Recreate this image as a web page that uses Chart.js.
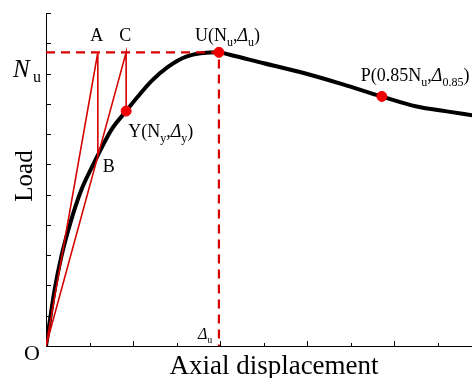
<!DOCTYPE html>
<html>
<head>
<meta charset="utf-8">
<script src="https://cdn.jsdelivr.net/npm/chart.js@4/dist/chart.umd.min.js"></script>
<style>
  html, body { margin: 0; padding: 0; background: #fff; }
  #wrap { width: 472px; height: 378px; position: relative; }
</style>
</head>
<body>
<div id="wrap"><canvas id="loadChart"></canvas></div>
<script>
// load-displacement curve (arbitrary units)
const curveX = [0, 0.1, 0.195, 0.35, 0.556, 0.81, 1.08, 1.19, 1.5, 1.84, 2.11, 2.42, 2.8, 3.22, 3.97, 4.22, 5.0, 5.83, 6.8, 7.71, 8.51, 9.2, 9.8];
const curveY = [0, 0.95, 1.84, 2.94, 4.05, 5.15, 5.98, 6.3, 7.14, 7.76, 8.24, 8.75, 9.22, 9.56, 9.7, 9.62, 9.34, 9.05, 8.65, 8.24, 7.91, 7.75, 7.62];

// characteristic points
const Nu = 9.7;
const ptA = [1.19, Nu];
const ptB = [1.19, 6.27];
const ptC = [1.84, Nu];
const ptY = [1.84, 7.76];
const ptU = [3.97, Nu];
const ptP = [7.71, 0.85 * Nu];

const xMax = 9.78;
const yMax = 11;
const yTicks = [1, 2, 3, 4, 5, 6, 7, 8, 9, 10, 11];
const xTicks = [1, 2, 3, 4, 5, 6, 7, 8, 9];

const red = "rgb(215,0,0)";
const dotRed = "rgb(240,0,0)";
const serif = "'Liberation Serif', 'Times New Roman', serif";

let toPts = (xs, ys) => xs.map((x, i) => ({ x: x, y: ys[i] }));
let pt = (p) => ({ x: p[0], y: p[1] });

// draw text pieces: [text, kind] kind: n normal, i italic, s sub, si italic sub
let richText = (ctx, x, y, parts, size, align) => {
  let fontFor = (k) => {
    let sz = k.indexOf("s") === 0 ? Math.round(size * 0.65) : size;
    return (k.indexOf("i") > -1 ? "italic " : "") + sz + "px " + serif;
  };
  let total = 0;
  parts.forEach((p) => {
    ctx.font = fontFor(p[1]);
    total += ctx.measureText(p[0]).width;
  });
  let cx = align === "center" ? x - total / 2 : x;
  parts.forEach((p) => {
    ctx.font = fontFor(p[1]);
    let dy = p[1].indexOf("s") === 0 ? size * 0.25 : 0;
    ctx.fillText(p[0], cx, y + dy);
    cx += ctx.measureText(p[0]).width;
  });
};

const inwardTicks = {
  id: "inwardTicks",
  afterDraw(chart) {
    const ctx = chart.ctx;
    const xs = chart.scales.x;
    const ys = chart.scales.y;
    const left = chart.chartArea.left;
    const bottom = chart.chartArea.bottom;
    ctx.save();
    ctx.strokeStyle = "#000";
    ctx.lineWidth = 1;
    ctx.beginPath();
    yTicks.forEach((v) => {
      let py = Math.round(ys.getPixelForValue(v)) + 0.5;
      ctx.moveTo(left, py);
      ctx.lineTo(left + 5, py);
    });
    xTicks.forEach((v) => {
      let px = Math.round(xs.getPixelForValue(v)) + 0.5;
      ctx.moveTo(px, bottom);
      ctx.lineTo(px, bottom - (v % 2 === 0 ? 5 : 3));
    });
    ctx.stroke();
    ctx.restore();
  },
};

const labels = {
  id: "labels",
  afterDraw(chart) {
    const ctx = chart.ctx;
    const xs = chart.scales.x;
    const ys = chart.scales.y;
    const X = (v) => xs.getPixelForValue(v);
    const Y = (v) => ys.getPixelForValue(v);
    ctx.save();
    ctx.fillStyle = "#000";
    ctx.textBaseline = "alphabetic";

    richText(ctx, X(ptA[0]) - 1, Y(Nu) - 11, [["A", "n"]], 18, "center");
    richText(ctx, X(ptC[0]) - 1, Y(Nu) - 11, [["C", "n"]], 18, "center");
    richText(ctx, X(ptB[0]) + 5, Y(ptB[1]) + 16, [["B", "n"]], 18, "left");
    richText(ctx, X(ptU[0]) - 24, Y(Nu) - 11,
      [["U(N", "n"], ["u", "s"], [",", "n"], ["\u0394", "i"], ["u", "s"], [")", "n"]], 18, "left");
    richText(ctx, X(ptY[0]) + 2, Y(ptY[1]) + 26,
      [["Y(N", "n"], ["y", "s"], [",", "n"], ["\u0394", "i"], ["y", "s"], [")", "n"]], 18, "left");
    richText(ctx, X(ptP[0]) - 21, Y(ptP[1]) - 15,
      [["P(0.85N", "n"], ["u", "s"], [",", "n"], ["\u0394", "i"], ["0.85", "s"], [")", "n"]], 18, "left");

    // axis annotations
    richText(ctx, 13, Y(Nu) + 25, [["N", "i"]], 25, "left");
    ctx.font = "16px " + serif;
    ctx.fillText("u", 33, Y(Nu) + 30);
    richText(ctx, X(ptU[0]) - 21, chart.chartArea.bottom - 7, [["\u0394", "i"], ["u", "s"]], 16, "left");
    ctx.font = "22px " + serif;
    ctx.textAlign = "center";
    ctx.fillText("O", 32, chart.chartArea.bottom + 14);
    ctx.font = "27px " + serif;
    ctx.fillText("Axial displacement", 274, 374);
    ctx.translate(32, 176);
    ctx.rotate(-Math.PI / 2);
    ctx.font = "25px " + serif;
    ctx.fillText("Load", 0, 0);
    ctx.restore();
  },
};

let loadChart = () => {
  new Chart(document.getElementById("loadChart"), {
    type: "scatter",
    data: {
      datasets: [
        {
          label: "points",
          data: [pt(ptY), pt(ptU), pt(ptP)],
          pointRadius: 5,
          pointBackgroundColor: dotRed,
          pointBorderColor: dotRed,
          showLine: false,
          order: 0,
        },
        {
          label: "OAB",
          data: [{ x: 0, y: 0 }, pt(ptA), pt(ptB)],
          showLine: true,
          borderColor: red,
          borderWidth: 1.6,
          pointRadius: 0,
          order: 1,
        },
        {
          label: "OCY",
          data: [{ x: 0, y: 0 }, pt(ptC), pt(ptY)],
          showLine: true,
          borderColor: red,
          borderWidth: 1.6,
          pointRadius: 0,
          order: 1,
        },
        {
          label: "Nu guide",
          data: [{ x: 0, y: Nu }, pt(ptU), { x: ptU[0], y: 0 }],
          showLine: true,
          borderColor: red,
          borderWidth: 2.2,
          borderDash: [9, 6],
          pointRadius: 0,
          order: 1,
        },
        {
          label: "curve",
          data: toPts(curveX, curveY),
          showLine: true,
          borderColor: "#000",
          borderWidth: 4,
          pointRadius: 0,
          cubicInterpolationMode: "monotone",
          order: 2,
        },
      ],
    },
    options: {
      responsive: true,
      maintainAspectRatio: false,
      animation: false,
      layout: { autoPadding: false, padding: { left: 46, right: 0, top: 13, bottom: 32 } },
      plugins: { legend: { display: false }, tooltip: { enabled: false } },
      scales: {
        x: {
          type: "linear",
          min: 0,
          max: xMax,
          grid: { display: false, drawTicks: false },
          border: { display: true, color: "#000", width: 1 },
          ticks: { display: false },
        },
        y: {
          type: "linear",
          min: 0,
          max: yMax,
          grid: { display: false, drawTicks: false },
          border: { display: true, color: "#000", width: 1 },
          ticks: { display: false },
        },
      },
    },
    plugins: [inwardTicks, labels],
  });
};

loadChart();
</script>
</body>
</html>
